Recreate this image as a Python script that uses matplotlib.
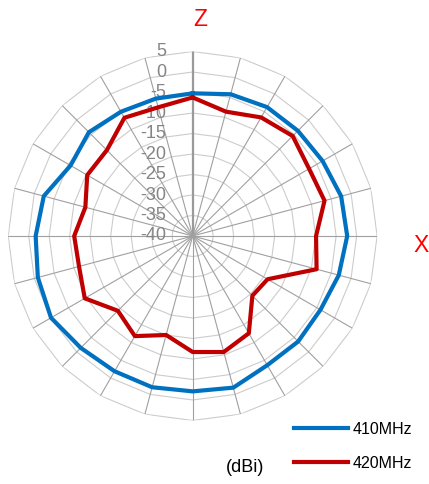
import numpy as np
import matplotlib
matplotlib.use("Agg")
import matplotlib.pyplot as plt

plt.rcParams['font.family'] = ['Liberation Sans', 'DejaVu Sans']

# angles in degrees, clockwise from top (Z)
angles = list(range(0, 360, 15))
gain_410 = [-5.2, -4.2, -3.7, -3.7, -3.4, -2.5, -2.3, -3.1, -4.0, -3.6, -3.6, -1.7,
            -2.1, -1.8, -1.9, -1.4, -0.1, -0.9, -1.7, -2.4, -5.6, -4.2, -5.0, -5.3]
gain_420 = [-6.2, -8.6, -6.6, -5.5, -7.2, -6.7, -9.9, -8.7, -18.9, -19.4, -12.6, -10.7,
            -11.7, -15.0, -11.8, -14.2, -9.6, -11.3, -11.1, -12.9, -10.3, -10.4, -6.7, -7.5]
rings = [-40, -35, -30, -25, -20, -15, -10, -5, 0, 5]
r_min, r_max = -40, 5

fig = plt.figure(figsize=(4.29, 4.84), dpi=100)
ax = fig.add_axes([0.0191, 0.1312, 0.860, 0.7624], projection='polar')
ax.set_theta_zero_location('N')
ax.set_theta_direction(-1)
ax.set_ylim(r_min, r_max)
ax.grid(False)
ax.set_xticks([])
ax.set_yticks([])
ax.spines['polar'].set_visible(False)

th = np.deg2rad(angles + [360])

# polygon rings
for v in rings[1:]:
    ax.plot(th, [v] * len(th), color='#cccccc', lw=0.8, zorder=1)

# spokes
for a in angles:
    t = np.deg2rad(a)
    if a == 0:
        ax.plot([t, t], [r_min, r_max], color='#9a9a9a', lw=1.6, zorder=2)
    else:
        ax.plot([t, t], [r_min, r_max], color='#a0a0a0', lw=0.8, zorder=2)

# value labels
for v in rings:
    ax.annotate(str(v), xy=(0, v), xytext=(-19, 0), textcoords='offset points',
                ha='right', va='center', fontsize=13, color='#858585', zorder=3)

l1, = ax.plot(th, gain_410 + gain_410[:1], color='#0070C0', lw=3, zorder=4,
              label='410MHz')
l2, = ax.plot(th, gain_420 + gain_420[:1], color='#C00000', lw=3, zorder=5,
              label='420MHz')

fig.text(200 / 429, 1 - 20 / 484, 'Z', color='red', fontsize=16.5, ha='center', va='center')
fig.text(421 / 429, 1 - 245 / 484, 'X', color='red', fontsize=16.5, ha='center', va='center')
fig.text(245 / 429, 1 - 468 / 484, '(dBi)', fontsize=13, ha='center', va='center')

fig.legend(handles=[l1, l2], loc='center left',
           bbox_to_anchor=(294 / 429, 1 - 446.5 / 484),
           frameon=False, fontsize=11.5, handlelength=3.4, handletextpad=0.25,
           labelspacing=1.2, borderpad=0, borderaxespad=0)

fig.savefig('out.png', dpi=100)
